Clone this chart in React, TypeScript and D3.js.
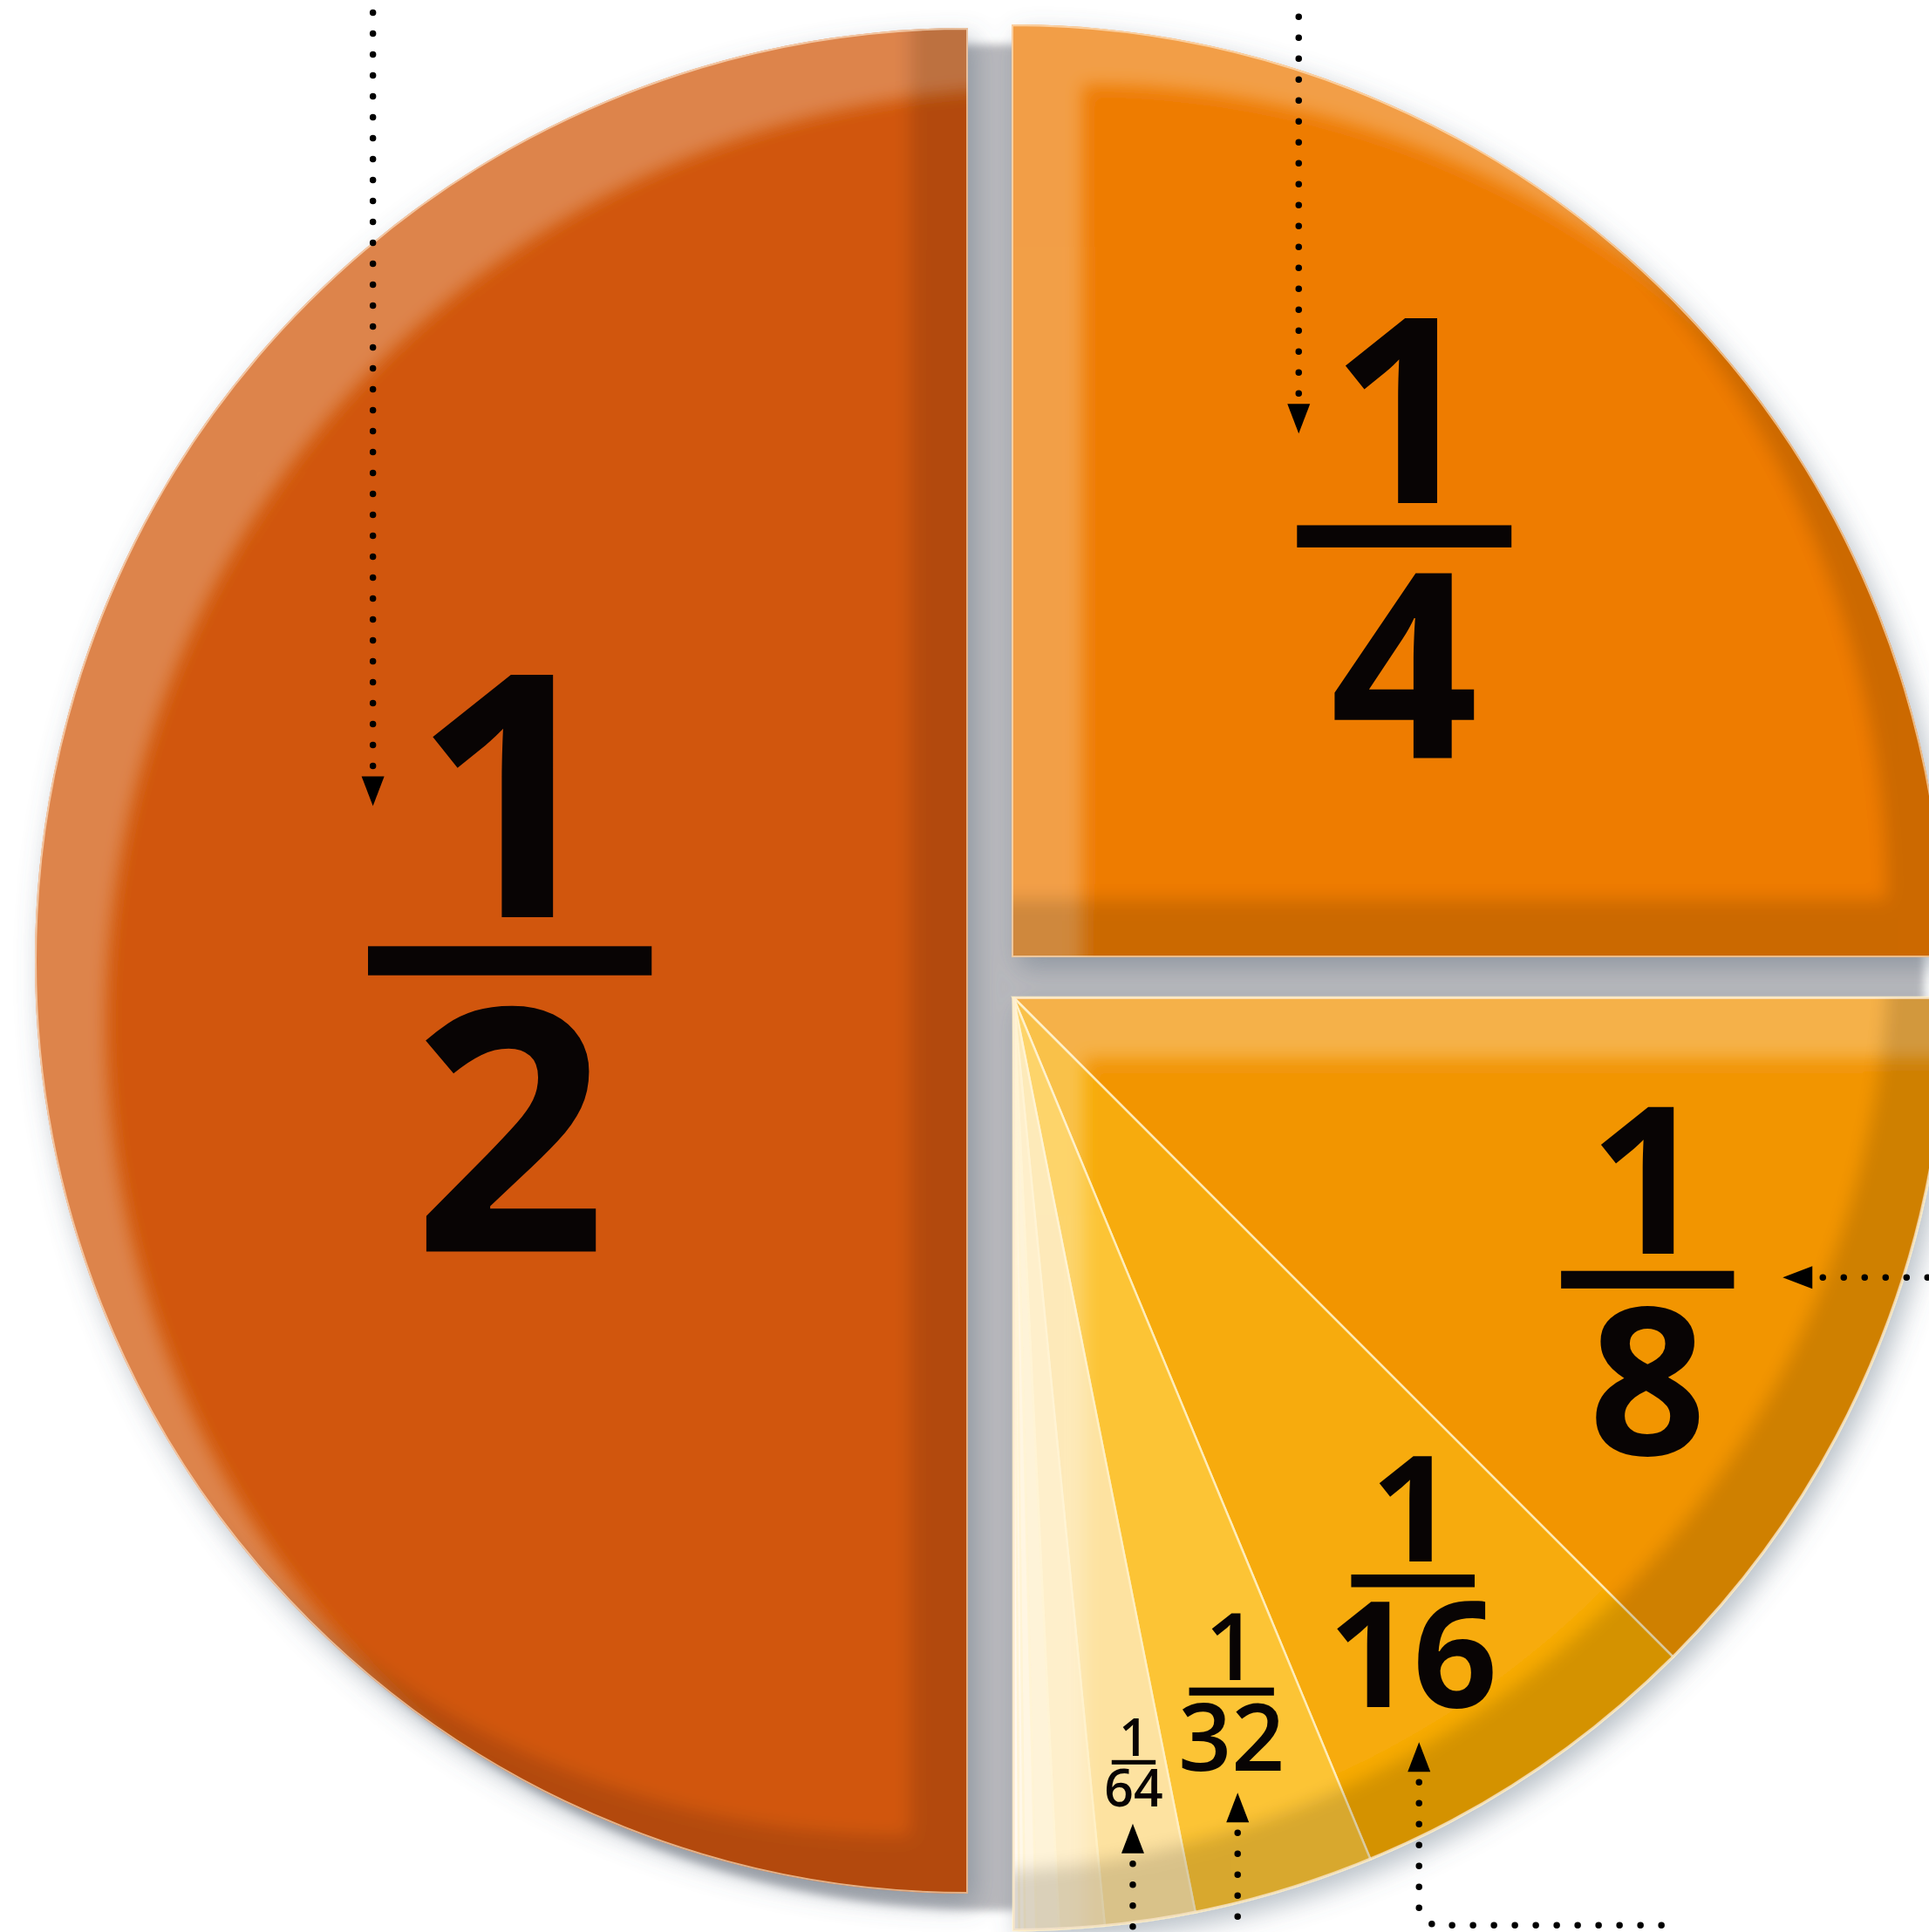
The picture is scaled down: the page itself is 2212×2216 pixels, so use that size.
import React from "react";
import * as d3 from "d3";

const WIDTH = 2212;
const HEIGHT = 2216;

// ---- data ----
const sliceNames = ["1/2", "1/4", "1/8", "1/16", "1/32", "1/64", "1/128", "1/256", "1/512", "1/1024", "rest"];
const sliceShares = [1 / 2, 1 / 4, 1 / 8, 1 / 16, 1 / 32, 1 / 64, 1 / 128, 1 / 256, 1 / 512, 1 / 1024, 1 / 1024];
const sliceColors = ["#d1570a", "#ee7b02", "#f29505", "#f7ab07", "#fcc435", "#fde2a0", "#fee9b8", "#feefca", "#fff3d8", "#fff6e2", "#fff9ec"];
const sliceGroup = [0, 1, 2, 2, 2, 2, 2, 2, 2, 2, 2];
const labelNumerators = ["1", "1", "1", "1", "1", "1"];
const labelDenominators = ["2", "4", "8", "16", "32", "64"];

// ---- layout ----
const CENTER: [number, number] = [1136, 1121];
const RADIUS = 1070;
const groupOffsets: [number, number][] = [[-26, -19], [24, -23], [26, 23]];
const labelRadius = [0.491, 0.617, 0.744, 0.758, 0.78, 0.83];
const labelNudgeDeg = [0, -2, 1.5, -0.65, -0.57, -0.5];
const labelDigitHeight = [278, 212, 168, 121, 76, 42];
const labelWeight = [700, 700, 700, 700, 600, 600];
const labelBarRatio = [1.17, 1.16, 1.18, 1.17, 1.28, 1.2];

// annotation arrows: tip relative to label anchor, direction, tail points relative to tip
const annotations = [
  { label: 0, tip: [-157, -177.5], dir: [0, 1], tail: [[0, -46], [0, -950]] },
  { label: 1, tip: [-121, -118], dir: [0, 1], tail: [[0, -46], [0, -520]] },
  { label: 2, tip: [155, -2.5], dir: [-1, 0], tail: [[46, 0], [200, 0]] },
  { label: 3, tip: [7, 185], dir: [0, -1], tail: [[0, 46], [0, 192], [16, 210], [288, 210], [296, 240]] },
  { label: 4, tip: [7, 116], dir: [0, -1], tail: [[0, 46], [0, 200]] },
  { label: 5, tip: [-1, 70.5], dir: [0, -1], tail: [[0, 46], [0, 170]] },
];

const FONT = "'Open Sans', 'Noto Sans', 'DejaVu Sans', sans-serif";

export default function App() {
  const pie = d3
    .pie<number>()
    .sort(null)
    .value((d) => d)
    .startAngle(-Math.PI)
    .endAngle(Math.PI);
  const arcs = pie(sliceShares);
  const arcGen = d3.arc<any>().innerRadius(0).outerRadius(RADIUS);

  const groups = [0, 1, 2].map((g) => {
    const idx = sliceShares.map((_, i) => i).filter((i) => sliceGroup[i] === g);
    const start = d3.min(idx, (i) => arcs[i].startAngle)!;
    const end = d3.max(idx, (i) => arcs[i].endAngle)!;
    return {
      g,
      idx,
      cx: CENTER[0] + groupOffsets[g][0],
      cy: CENTER[1] + groupOffsets[g][1],
      path: arcGen({ startAngle: start, endAngle: end }) as string,
    };
  });

  const labels = labelDenominators.map((den, i) => {
    const grp = groups[sliceGroup[i]];
    const a = arcs[i];
    const theta = (a.startAngle + a.endAngle) / 2 + (labelNudgeDeg[i] * Math.PI) / 180;
    const r = labelRadius[i] * RADIUS;
    return {
      x: grp.cx + r * Math.sin(theta),
      y: grp.cy - r * Math.cos(theta),
      h: labelDigitHeight[i],
      num: labelNumerators[i],
      den,
      weight: labelWeight[i],
      bar: labelBarRatio[i],
    };
  });

  const line = d3.line();
  const BIG = 1400;
  const HLX = 82;
  const HLY = 70;
  const SH = 66;

  return (
    <svg
      width={WIDTH}
      height={HEIGHT}
      viewBox={`0 0 ${WIDTH} ${HEIGHT}`}
      style={{ position: "absolute", left: 0, top: 0, background: "#ffffff" }}
    >
      <defs>
        <filter id="soft" x="-20%" y="-20%" width="140%" height="140%">
          <feGaussianBlur stdDeviation="10" />
        </filter>
        <filter id="diskBlur" x="-10%" y="-10%" width="120%" height="120%">
          <feGaussianBlur stdDeviation="5" />
        </filter>
        <filter id="drop" x="-8%" y="-8%" width="120%" height="120%">
          <feDropShadow dx="8" dy="12" stdDeviation="15" floodColor="#56677a" floodOpacity="0.42" />
        </filter>
        {groups.map((gr) => (
          <React.Fragment key={gr.g}>
            <clipPath id={`clip${gr.g}`}>
              <path d={gr.path} />
            </clipPath>
            <mask id={`hl${gr.g}`} maskUnits="userSpaceOnUse" x={-BIG} y={-BIG} width={2 * BIG} height={2 * BIG}>
              <rect x={-BIG} y={-BIG} width={2 * BIG} height={2 * BIG} fill="white" />
              <path d={gr.path} transform={`translate(${HLX},${HLY})`} fill="black" filter="url(#soft)" />
            </mask>
            <mask id={`sh${gr.g}`} maskUnits="userSpaceOnUse" x={-BIG} y={-BIG} width={2 * BIG} height={2 * BIG}>
              <rect x={-BIG} y={-BIG} width={2 * BIG} height={2 * BIG} fill="white" />
              <path d={gr.path} transform={`translate(${-SH},${-SH})`} fill="black" filter="url(#soft)" />
            </mask>
          </React.Fragment>
        ))}
      </defs>

      {/* gray backing showing through the gaps */}
      <circle cx={CENTER[0]} cy={CENTER[1]} r={RADIUS} fill="#b9b9bd" filter="url(#diskBlur)" />

      <g filter="url(#drop)">
        {groups.map((gr) => (
          <g key={gr.g} transform={`translate(${gr.cx},${gr.cy})`}>
            {gr.idx.map((i) => (
              <path
                key={sliceNames[i]}
                d={arcGen(arcs[i]) as string}
                fill={sliceColors[i]}
                stroke={gr.idx.length > 1 ? "#fff0c4" : "none"}
                strokeWidth={2.5}
                strokeOpacity={0.85}
              />
            ))}
            <g clipPath={`url(#clip${gr.g})`}>
              <rect
                x={-BIG}
                y={-BIG}
                width={2 * BIG}
                height={2 * BIG}
                fill="#ffffff"
                opacity={0.27}
                mask={`url(#hl${gr.g})`}
              />
              <rect
                x={-BIG}
                y={-BIG}
                width={2 * BIG}
                height={2 * BIG}
                fill="#000000"
                opacity={0.14}
                mask={`url(#sh${gr.g})`}
              />
              <path d={gr.path} fill="none" stroke="#ffe9cf" strokeWidth={4} opacity={0.65} />
            </g>
          </g>
        ))}
      </g>

      {/* labels */}
      {labels.map((l, i) => (
        <g key={i} transform={`translate(${l.x},${l.y})`} fill="#080404">
          <text textAnchor="middle" fontFamily={FONT} fontWeight={l.weight} fontSize={l.h / 0.714}>
            <tspan x={0} y={-0.18 * l.h}>
              {l.num}
            </tspan>
            <tspan x={0} y={1.2 * l.h}>
              {l.den}
            </tspan>
          </text>
          <rect x={(-l.bar / 2) * l.h} y={-0.06 * l.h} width={l.bar * l.h} height={0.12 * l.h} />
        </g>
      ))}

      {/* annotation arrows */}
      {annotations.map((an, k) => {
        const l = labels[an.label];
        const tx = l.x + an.tip[0];
        const ty = l.y + an.tip[1];
        const [dx, dy] = an.dir;
        const px = -dy;
        const py = dx;
        const len = 34;
        const hw = 13;
        const head = [
          [tx, ty],
          [tx - dx * len + px * hw, ty - dy * len + py * hw],
          [tx - dx * len - px * hw, ty - dy * len - py * hw],
        ];
        const pts = an.tail.map((p) => [tx + p[0], ty + p[1]] as [number, number]);
        return (
          <g key={k}>
            <path
              d={line(pts) as string}
              fill="none"
              stroke="#000"
              strokeWidth={7.5}
              strokeLinecap="round"
              strokeLinejoin="round"
              strokeDasharray="0 24"
            />
            <polygon points={head.map((p) => p.join(",")).join(" ")} fill="#000" />
          </g>
        );
      })}
    </svg>
  );
}
